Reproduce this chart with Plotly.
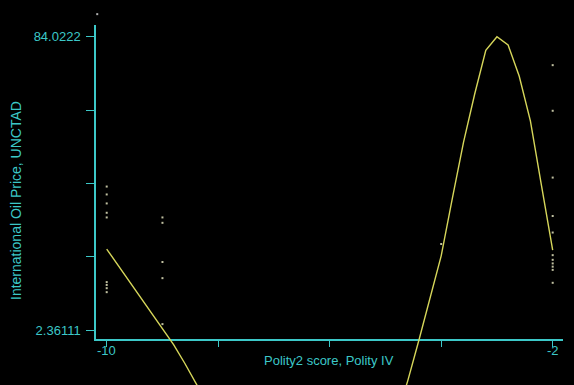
import plotly.graph_objects as go

# ---- data ----
curve_x = [-10, -9.8, -9.6, -9.4, -9.2, -9.0, -8.8, -8.6, -8.4, -8.2, -8.0, -7.0, -6.0, -5.0,
           -4.8, -4.6, -4.4, -4.2, -4.0, -3.8, -3.6, -3.4, -3.2, -3.0, -2.8, -2.6, -2.4, -2.2, -2.0]
curve_y = [24.9, 20.5, 16.0, 11.6, 7.2, 2.8, -1.7, -6.9, -12.3, -18.0, -24.0, -45.0, -50.0, -30.0,
           -21.8, -11.8, -0.5, 10.9, 23.0, 39.0, 54.6, 68.0, 80.2, 84.0222, 81.7, 73.0, 60.6, 42.5, 24.6]

dots_x = [-10, -10, -10, -10, -10, -10, -10, -10, -10,
          -9, -9, -9, -9, -9,
          -4,
          -2, -2, -2, -2, -2, -2, -2, -2, -2, -2, -2]
dots_y = [42.3, 40.1, 37.6, 35.0, 33.7, 15.7, 14.9, 14.0, 12.9,
          33.7, 32.2, 21.3, 16.8, 4.0,
          26.3,
          76.1, 63.4, 44.8, 34.1, 29.5, 23.2, 21.9, 20.9, 20.0, 19.1, 15.5]

extra_x = [-10.17]
extra_y = [90.3]

x_ticks = [-10, -8, -6, -4, -2]
x_ticktext = ["-10", "", "", "", "-2"]
y_min_label = 2.36111
y_max_label = 84.0222
y_ticktext = ["2.36111", "", "", "", "84.0222"]

# ---- layout geometry ----
W, H = 574, 385
left_px, right_px, top_px, bottom_px = 96, 563, 25, 339
x_range = [-10.192, -1.815]
y_range = [-0.145, 87.28]

k = (bottom_px - top_px) / (y_range[1] - y_range[0])
y2_range = [y_range[0] - (H - bottom_px) / k, y_range[1] + top_px / k]

step = (y_max_label - y_min_label) / 4
y_ticks = [y_min_label + i * step for i in range(5)]

AX = "#3cc8c8"
FONT = "Liberation Sans, Arial, sans-serif"

fig = go.Figure()
fig.add_trace(go.Scatter(x=curve_x, y=curve_y, mode="lines", xaxis="x", yaxis="y2",
                         line=dict(color="#d6d65a", width=1.4), hoverinfo="skip", showlegend=False))
fig.add_trace(go.Scatter(x=extra_x, y=extra_y, mode="markers", xaxis="x", yaxis="y2",
                         marker=dict(color="#b0b0b0", size=2, symbol="square", line=dict(width=0)),
                         showlegend=False))
fig.add_trace(go.Scatter(x=dots_x, y=dots_y, mode="markers", xaxis="x", yaxis="y",
                         marker=dict(color="#c0c0a0", size=2, symbol="square", line=dict(width=0)),
                         showlegend=False, cliponaxis=False))

# x tick labels placed as text annotations just under the tick marks
tick_annots = [
    dict(text=t, x=v, xref="x", yref="paper", y=(H - 350) / H,
         xanchor="center", yanchor="middle", showarrow=False,
         font=dict(family=FONT, size=13, color=AX))
    for v, t in zip(x_ticks, x_ticktext) if t
]

fig.update_layout(
    width=W, height=H,
    margin=dict(l=left_px, r=W - right_px, t=0, b=0, pad=0),
    paper_bgcolor="black", plot_bgcolor="rgba(0,0,0,0)",
    font=dict(family=FONT, size=13, color=AX),
    showlegend=False,
    xaxis=dict(range=x_range, domain=[0, 1], anchor="y", showgrid=False, zeroline=False,
               showline=True, linecolor=AX, linewidth=1.5,
               tickmode="array", tickvals=x_ticks, showticklabels=False,
               ticks="outside", ticklen=6, tickcolor=AX, tickwidth=1,
               automargin=False),
    yaxis=dict(range=y_range, domain=[(H - bottom_px) / H, (H - top_px) / H], anchor="x",
               showgrid=False, zeroline=False, showline=True, linecolor=AX, linewidth=1.5,
               tickmode="array", tickvals=y_ticks, ticktext=y_ticktext,
               ticks="outside", ticklen=8, tickcolor=AX, tickwidth=1,
               ticklabelstandoff=3,
               tickfont=dict(family=FONT, size=13, color=AX), automargin=False),
    yaxis2=dict(range=y2_range, domain=[0, 1], anchor="x", visible=False,
                showgrid=False, zeroline=False),
    annotations=tick_annots + [
        dict(text="Polity2 score, Polity IV", xref="paper", yref="paper",
             x=(329 - left_px) / (right_px - left_px), y=(H - 360) / H,
             xanchor="center", yanchor="middle", showarrow=False,
             font=dict(family=FONT, size=13, color=AX)),
        dict(text="International Oil Price, UNCTAD", xref="paper", yref="paper",
             x=(16 - left_px) / (right_px - left_px), y=(H - 201) / H,
             xanchor="center", yanchor="middle", textangle=-90, showarrow=False,
             font=dict(family=FONT, size=14, color=AX)),
    ],
)

fig.write_html("out.html")
